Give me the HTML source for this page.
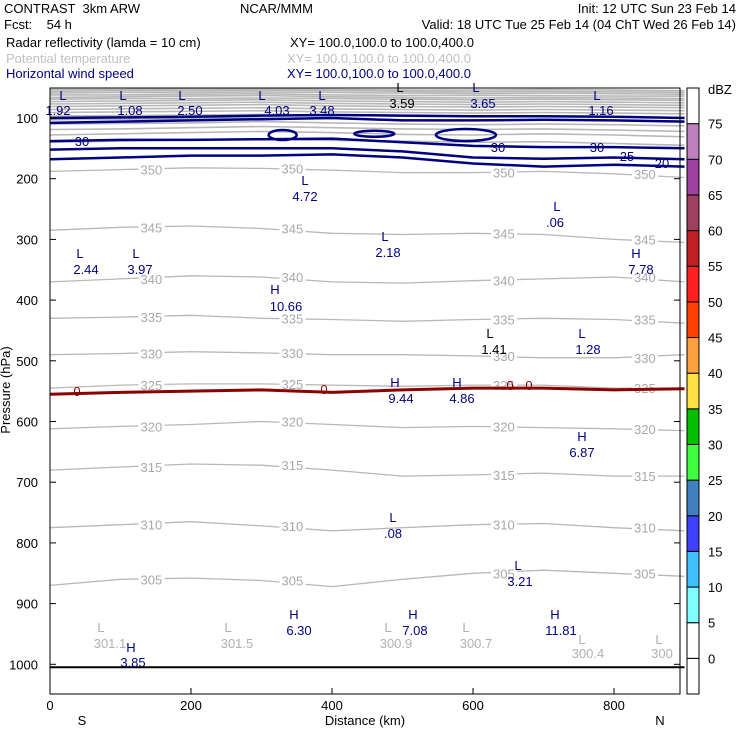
<!DOCTYPE html>
<html><head><meta charset="utf-8"><style>
body{margin:0;background:#fff;width:740px;height:740px;overflow:hidden}
svg text{font-family:"Liberation Sans",sans-serif;font-size:13px;white-space:pre}
</style></head><body>
<svg id="c" width="740" height="740" xmlns="http://www.w3.org/2000/svg">
<g>
<text x="4" y="13" xml:space="preserve">CONTRAST  3km ARW</text>
<text x="240" y="13">NCAR/MMM</text>
<text x="736" y="13" text-anchor="end">Init: 12 UTC Sun 23 Feb 14</text>
<text x="4" y="29" xml:space="preserve">Fcst:    54 h</text>
<text x="736" y="29" text-anchor="end">Valid: 18 UTC Tue 25 Feb 14 (04 ChT Wed 26 Feb 14)</text>
<text x="6" y="47">Radar reflectivity (lamda = 10 cm)</text>
<text x="290" y="47">XY= 100.0,100.0 to 100.0,400.0</text>
<text x="6" y="63" fill="#c0c0c0">Potential temperature</text>
<text x="287" y="63" fill="#c0c0c0">XY= 100.0,100.0 to 100.0,400.0</text>
<text x="6" y="78" fill="#000080">Horizontal wind speed</text>
<text x="287" y="78" fill="#000080">XY= 100.0,100.0 to 100.0,400.0</text>
</g>
<g id="plot"></g>
<rect x="50" y="88" width="630" height="606" fill="none" stroke="#000" stroke-width="1"/>
<g id="axes"></g>
<g id="cbar"></g>
<text x="10" y="390" transform="rotate(-90 10 390)" text-anchor="middle" font-size="12">Pressure (hPa)</text>
<text x="365" y="725" text-anchor="middle" font-size="12">Distance (km)</text>
<text x="82" y="725" text-anchor="middle" font-size="12">S</text>
<text x="660" y="725" text-anchor="middle" font-size="12">N</text>
</svg>
<script>
const xKm=[0,100,200,300,400,500,600,700,800,900];
const pTicks=[100,200,300,400,500,600,700,800,900,1000];
const xTicks=[0,200,400,600,800];
const thetaLevels=[350,345,340,335,330,325,320,315,310,305];
const theta350=[188,185,182,183,186,190,190,188,192,198];
const theta345=[285,280,278,282,290,292,290,292,300,305];
const theta340=[370,365,360,362,370,372,368,365,362,370];
const theta335=[430,428,425,430,432,435,432,430,432,438];
const theta330=[490,488,485,487,490,490,492,495,495,490];
const theta325=[545,540,538,538,540,542,540,540,545,545];
const theta320=[612,608,605,600,605,610,608,610,612,615];
const theta315=[680,675,670,672,680,690,688,685,690,690];
const theta310=[775,770,765,772,780,775,770,768,775,780];
const theta305=[870,860,858,862,872,860,850,845,850,855];
const strat1=[140,138,136,135,137,138,140,139,142,145];
const strat2=[128,126,124,122,124,127,128,126,128,131];
const strat3=[119,118,116,114,116,118,119,118,120,122];
const strat4=[110,109,108,106,108,110,111,110,111,113];
const strat5=[103,102,101,100,101,103,104,103,104,105];
const strat6=[97,96,95,94,95,97,98,97,98,99];
const strat7=[91,90,89,88,90,91,92,91,92,93];
const strat8=[86,85,84,83,85,86,87,86,87,88];
const strat9=[81,80,79,78,80,81,82,81,82,83];
const strat10=[77,76,75,74,76,77,78,77,78,79];
const strat11=[73,72,71,70,72,73,74,73,74,75];
const strat12=[69,68,68,67,68,69,70,69,70,71];
const strat13=[66,65,64,63,65,66,67,66,67,68];
const strat14=[62,62,61,60,62,63,63,63,64,64];
const strat15=[59,58,58,57,58,59,60,59,60,61];
const strat16=[56,55,55,54,55,56,57,56,57,58];
const strat17=[53,53,52,52,53,54,54,53,54,55];
const wind1=[100,99,98,96,95,96,97,97,98,100];
const wind2=[108,106,104,102,100,104,104,103,104,106];
const wind30=[138,136,136,135,134,140,146,148,148,150];
const wind25=[152,150,150,150,150,155,165,167,165,168];
const wind20=[168,165,162,162,160,165,175,180,177,180];
const zeroLine=[555,552,550,548,552,548,545,545,548,546];
const ground=[1005,1005,1005,1005,1005,1005,1005,1005,1005,1005];
const dbzLevels=[0,5,10,15,20,25,30,35,40,45,50,55,60,65,70,75];
const dbzColors=["#ffffff","#ffffff","#80ffff","#40c0ff","#4040ff","#4080c0","#40ff40","#00c000","#ffe040","#ffa040","#ff4000","#ff2020","#c02020","#a04060","#a040a0","#c080c0","#ffffff"];

const X=k=>50+k*0.705;
const Y=p=>118+(p-100)*0.607;
const NS="http://www.w3.org/2000/svg";
function mk(t,a,parent){const e=document.createElementNS(NS,t);for(const k in a)e.setAttribute(k,a[k]);parent.appendChild(e);return e;}
const plot=document.getElementById('plot');
function line(arr,color,w,name){
  const d=arr.map((p,i)=>(i?'L':'M')+X(xKm[i]).toFixed(1)+' '+Y(p).toFixed(1)).join(' ');
  const e=mk('path',{d:d,fill:'none',stroke:color,'stroke-width':w},plot);
  
  
  return e;
}
[strat1,strat2,strat3,strat4,strat5,strat6,strat7,strat8,strat9,strat10,strat11,strat12,strat13,strat14,strat15,strat16,strat17].forEach((a,i)=>line(a,'#b8b8b8',1.6,'theta-strat-'+(i+1)));
const th=[theta350,theta345,theta340,theta335,theta330,theta325,theta320,theta315,theta310,theta305];
th.forEach((a,i)=>{
  line(a,'#b8b8b8',1.3,'theta-'+thetaLevels[i]);
  [1,3,6,8].forEach(j=>{
    const bx=X(xKm[j])+20, by=Y(a[j]);
    const bg=mk('rect',{x:bx-2,y:by-6,width:26,height:12,fill:'#fff'},plot);
    
    
    const t=mk('text',{x:bx,y:by+5,fill:'#a8a8a8','font-size':'13'},plot);
    t.textContent=thetaLevels[i];
    
    
  });
});
line(wind1,'#000080',2.5,'wind-contour-upper');
line(wind2,'#000080',2.5,'wind-contour-upper2');
line(wind30,'#000080',2.5,'wind-contour-30');
line(wind25,'#000080',2.5,'wind-contour-25');
line(wind20,'#000080',2.5,'wind-contour-20');
line(zeroLine,'#8b0000',3,'zero-celsius-line');
line(ground,'#000',2,'ground-line');
[[X(330),Y(128),14,5],[X(460),Y(126),20,3],[X(590),Y(128),30,6]].forEach(e=>{
  const el=mk('ellipse',{cx:e[0],cy:e[1],rx:e[2],ry:e[3],fill:'none',stroke:'#000080','stroke-width':2.5},plot);
  
  
});
const ann=[["30",82,146,"#000080"],["30",498,152,"#000080"],["30",597,152,"#000080"],["25",627,161,"#000080"],["20",662,168,"#000080"],
["L",63,100,"#000080"],["1.92",58,115,"#000080"],["L",123,100,"#000080"],["1.08",130,115,"#000080"],["L",182,100,"#000080"],["2.50",190,115,"#000080"],
["L",262,100,"#000080"],["4.03",277,115,"#000080"],["L",322,100,"#000080"],["3.48",322,115,"#000080"],["L",400,92,"#000"],["3.59",402,108,"#000"],
["L",476,92,"#000080"],["3.65",483,108,"#000080"],["L",597,100,"#000080"],["1.16",601,115,"#000080"],
["L",305,185,"#000080"],["4.72",305,201,"#000080"],["L",557,211,"#000080"],[".06",555,227,"#000080"],["L",385,241,"#000080"],["2.18",388,257,"#000080"],
["L",80,258,"#000080"],["2.44",86,274,"#000080"],["L",136,258,"#000080"],["3.97",140,274,"#000080"],["H",636,258,"#000080"],["7.78",641,274,"#000080"],
["H",275,294,"#000080"],["10.66",286,311,"#000080"],["L",490,338,"#000"],["1.41",494,354,"#000"],["L",582,338,"#000080"],["1.28",588,354,"#000080"],
["H",395,387,"#000080"],["9.44",401,403,"#000080"],["H",457,387,"#000080"],["4.86",462,403,"#000080"],["H",582,441,"#000080"],["6.87",582,457,"#000080"],
["L",393,522,"#000080"],[".08",393,538,"#000080"],["L",518,570,"#000080"],["3.21",520,586,"#000080"],
["H",294,619,"#000080"],["6.30",299,635,"#000080"],["H",413,619,"#000080"],["7.08",415,635,"#000080"],["H",555,619,"#000080"],["11.81",561,635,"#000080"],
["L",101,632,"#b0b0b0"],["301.1",110,648,"#b0b0b0"],["L",228,632,"#b0b0b0"],["301.5",237,648,"#b0b0b0"],["L",388,632,"#b0b0b0"],["300.9",396,648,"#b0b0b0"],
["L",466,632,"#b0b0b0"],["300.7",476,648,"#b0b0b0"],["L",582,644,"#b0b0b0"],["300.4",588,658,"#b0b0b0"],["L",659,644,"#b0b0b0"],["300",662,658,"#b0b0b0"],
["H",131,652,"#000080"],["3.85",133,667,"#000080"],["0",77,396,"#8b0000"],["0",324,394,"#8b0000"],["0",510,390,"#8b0000"],["0",529,390,"#8b0000"]];
ann.forEach(a=>{const t=mk('text',{x:a[1],y:a[2],fill:a[3],'text-anchor':'middle','font-size':'14'},plot);t.textContent=a[0];
});
const axes=document.getElementById('axes');
pTicks.forEach(p=>{mk('line',{x1:50,x2:56,y1:Y(p),y2:Y(p),stroke:'#000'},axes);mk('line',{x1:674,x2:680,y1:Y(p),y2:Y(p),stroke:'#000'},axes);
const t=mk('text',{x:38,y:Y(p)+5,'text-anchor':'end','font-size':'12'},axes);t.textContent=p;
});
xTicks.forEach(k=>{mk('line',{x1:X(k),x2:X(k),y1:688,y2:694,stroke:'#000'},axes);
const t=mk('text',{x:X(k),y:710,'text-anchor':'middle','font-size':'12'},axes);t.textContent=k;
});
const cb=document.getElementById('cbar');
const cellH=606/dbzColors.length;
dbzColors.forEach((c,i)=>{const r=mk('rect',{x:687,y:694-(i+1)*cellH,width:12,height:cellH,fill:c,stroke:'#000','stroke-width':1},cb);
});
dbzLevels.forEach((v,i)=>{const t=mk('text',{x:708,y:694-(i+1)*cellH+5,'font-size':'13'},cb);t.textContent=v;
});
const u=mk('text',{x:708,y:94,'font-size':'13'},cb);u.textContent='dBZ';

</script>
</body></html>
